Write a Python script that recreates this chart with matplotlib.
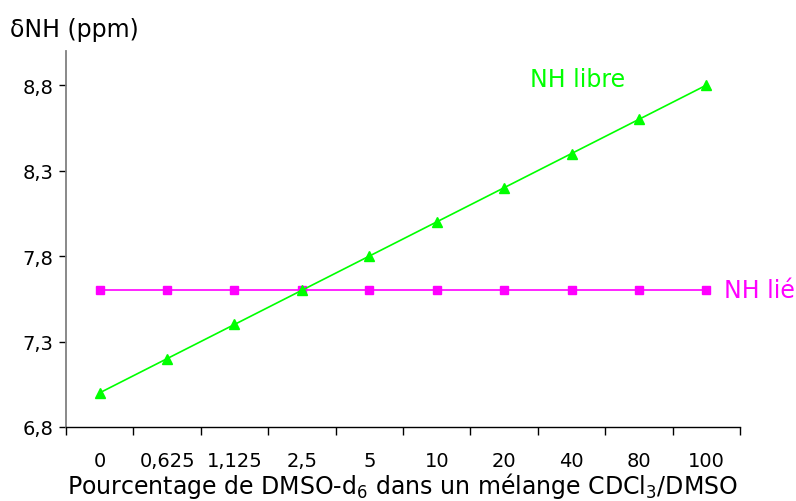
import matplotlib.pyplot as plt
from matplotlib.ticker import FixedLocator

# DMSO-d6 percentage (categorical axis)
pct_labels = ["0", "0,625", "1,125", "2,5", "5", "10", "20", "40", "80", "100"]
nh_libre = [7.0, 7.2, 7.4, 7.6, 7.8, 8.0, 8.2, 8.4, 8.6, 8.8]
nh_lie = [7.6, 7.6, 7.6, 7.6, 7.6, 7.6, 7.6, 7.6, 7.6, 7.6]
y_ticks = [6.8, 7.3, 7.8, 8.3, 8.8]

GREEN = "#00FF00"
MAGENTA = "#FF00FF"

plt.rcParams["font.family"] = ["DejaVu Sans"]

fig = plt.figure(figsize=(7.96, 5.02), dpi=100)
ax = fig.add_axes([66 / 796, 74 / 502, 674 / 796, 376 / 502])

x = list(range(len(pct_labels)))
ax.plot(x, nh_lie, color=MAGENTA, lw=1.2, marker="s", ms=6, zorder=3)
ax.plot(x, nh_libre, color=GREEN, lw=1.2, marker="^", ms=7.5, zorder=4)

ax.set_xlim(-0.5, len(pct_labels) - 0.5)
ax.set_ylim(6.8, 9.0)

# category labels sit between the tick marks
ax.set_xticks(x)
ax.set_xticklabels(pct_labels, fontsize=14)
ax.tick_params(axis="x", which="major", length=0, pad=17)
ax.xaxis.set_minor_locator(FixedLocator([i - 0.5 for i in range(len(pct_labels) + 1)]))
ax.tick_params(axis="x", which="minor", length=6, width=1, direction="out")

ax.set_yticks(y_ticks)
ax.set_yticklabels([f"{v:.1f}".replace(".", ",") for v in y_ticks], fontsize=14)
ax.tick_params(axis="y", length=5, width=1, direction="out", pad=4)

for side in ("top", "right"):
    ax.spines[side].set_visible(False)
ax.spines["left"].set_color("#808080")
ax.spines["left"].set_linewidth(1.3)
ax.spines["bottom"].set_color("black")
ax.spines["bottom"].set_linewidth(1)

ax.text(7.09, 8.835, "NH libre", color=GREEN, fontsize=17, ha="center", va="center")
ax.text(9.27, nh_lie[-1], "NH lié", color=MAGENTA, fontsize=17, ha="left",
        va="center", clip_on=False)

fig.text(10 / 796, 1 - 30 / 502, "δNH (ppm)", fontsize=17, ha="left", va="center")
fig.text(402 / 796, 1 - 486 / 502,
         "Pourcentage de DMSO-d$_6$ dans un mélange CDCl$_3$/DMSO",
         fontsize=17, ha="center", va="center")

fig.savefig("out.png", dpi=100)
